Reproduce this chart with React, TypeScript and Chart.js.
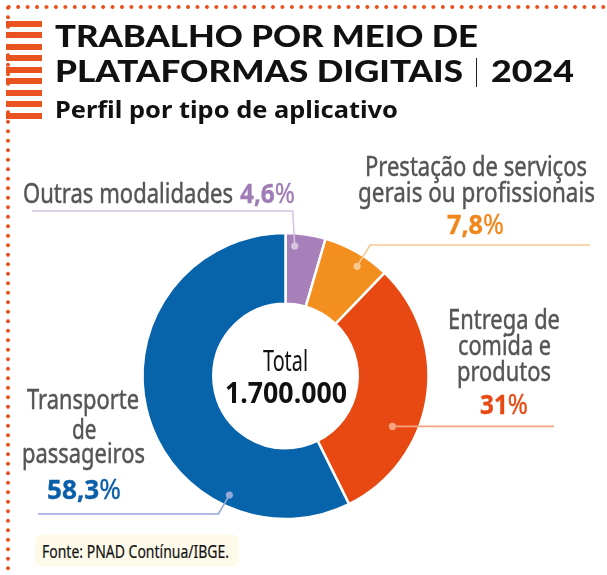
import React, { useEffect, useLayoutEffect, useRef } from "react";
import { Chart, registerables } from "chart.js";

Chart.register(...registerables);

// ---- data ----
const categories = [
  "Outras modalidades",
  "Prestação de serviços gerais ou profissionais",
  "Entrega de comida e produtos",
  "Transporte de passageiros",
];
const shares = [4.6, 7.8, 31, 58.3];
const shareLabels = ["4,6", "7,8", "31", "58,3"];
const totalLabel = "1.700.000";

// ---- styling ----
const sliceColors = ["#a77fb9", "#f28f1f", "#e84913", "#0763aa"];
const leaderColors = ["#d5c4e0", "#f9c891", "#f6a27f", "#93a7d9"];
const textColors = ["#a07cb6", "#f0871c", "#e84913", "#0a5fa8"];
const ORANGE = "#e8531f";
const GRAY = "#555557";
const LABEL_FONT = "'Noto Sans', 'Open Sans', sans-serif";
const TITLE_FONT = "Lato, 'Noto Sans', sans-serif";

// Leader line geometry per slice: where the dot sits inside the ring
// (fraction along the arc, fraction across the ring), the level of the
// horizontal run, the horizontal offset of the elbow, and where the run ends.
type Leader = { t: number; rf: number; lineY: number | null; elbowDx: number; endX: number };
const leaders: Leader[] = [
  { t: 0.25, rf: 0.82, lineY: 211, elbowDx: -2, endX: 32 },
  { t: 0.61, rf: 0.83, lineY: 245, elbowDx: 13, endX: 590 },
  { t: 0.65, rf: 0.65, lineY: null, elbowDx: 0, endX: 554 },
  { t: 0.25, rf: 0.84, lineY: 514, elbowDx: -11, endX: 38 },
];

const leaderPlugin = {
  id: "leaders",
  afterDatasetsDraw(chart: any) {
    const ctx = chart.ctx as CanvasRenderingContext2D;
    const arcs = chart.getDatasetMeta(0).data;
    arcs.forEach((arc: any, i: number) => {
      const L = leaders[i];
      if (!L) return;
      const p = arc.getProps(["x", "y", "startAngle", "endAngle", "innerRadius", "outerRadius"], true);
      const a = p.startAngle + L.t * (p.endAngle - p.startAngle);
      const r = p.innerRadius + L.rf * (p.outerRadius - p.innerRadius);
      const dx = p.x + Math.cos(a) * r;
      const dy = p.y + Math.sin(a) * r;
      const ly = L.lineY === null ? dy : L.lineY;
      ctx.save();
      ctx.strokeStyle = leaderColors[i];
      ctx.lineWidth = 1.6;
      ctx.beginPath();
      ctx.moveTo(dx, dy);
      ctx.lineTo(dx + L.elbowDx, ly);
      ctx.lineTo(L.endX, ly);
      ctx.stroke();
      ctx.fillStyle = leaderColors[i];
      ctx.beginPath();
      ctx.arc(dx, dy, 3.6, 0, Math.PI * 2);
      ctx.fill();
      ctx.restore();
    });
  },
};

type TxtProps = {
  x: number;
  y: number; // baseline
  w?: number; // width to fit
  size: number;
  weight?: number;
  color?: string;
  family?: string;
  align?: "left" | "center" | "right";
  stroke?: number;
  children: React.ReactNode;
};

function Txt({
  x,
  y,
  w,
  size,
  weight = 400,
  color = GRAY,
  family = LABEL_FONT,
  align = "left",
  stroke = 0.45,
  children,
}: TxtProps) {
  const ref = useRef<HTMLDivElement>(null);
  const probe = useRef<HTMLSpanElement>(null);
  useLayoutEffect(() => {
    const el = ref.current!;
    const pr = probe.current!;
    el.style.transform = "none";
    const natural = el.getBoundingClientRect().width;
    const base = pr.offsetTop;
    const sx = w ? w / natural : 1;
    const width = natural * sx;
    const left = align === "center" ? x - width / 2 : align === "right" ? x - width : x;
    el.style.left = left + "px";
    el.style.top = y - base + "px";
    el.style.transformOrigin = "0 0";
    el.style.transform = `scaleX(${sx})`;
  });
  return (
    <div
      ref={ref}
      style={{
        position: "absolute",
        left: 0,
        top: 0,
        display: "inline-block",
        whiteSpace: "nowrap",
        fontFamily: family,
        fontSize: size,
        fontWeight: weight,
        color,
        lineHeight: 1.2,
        WebkitTextStroke: stroke ? `${stroke}px currentColor` : undefined,
      }}
    >
      {children}
      <span ref={probe} style={{ display: "inline-block", width: 0, height: 0 }} />
    </div>
  );
}

function Pct({ value, color }: { value: string; color: string }) {
  return (
    <span style={{ color, WebkitTextStroke: `0.3px ${color}` }}>
      <span style={{ fontWeight: 700 }}>{value}</span>
      <span style={{ fontWeight: 400 }}>%</span>
    </span>
  );
}

export default function App() {
  const canvasRef = useRef<HTMLCanvasElement>(null);

  useEffect(() => {
    const chart = new Chart(canvasRef.current!, {
      type: "doughnut",
      data: {
        labels: categories,
        datasets: [
          {
            data: shares,
            backgroundColor: sliceColors,
            borderColor: "#ffffff",
            borderWidth: 2.5,
            hoverOffset: 0,
          },
        ],
      },
      options: {
        responsive: false,
        animation: false,
        radius: 143,
        cutout: "50.5%",
        rotation: 0,
        layout: { padding: { left: 0, right: 36, top: 177, bottom: 0 } },
        plugins: {
          legend: { display: false },
          tooltip: { enabled: false },
          title: { display: false },
        },
        events: [],
      },
      plugins: [leaderPlugin],
    });
    return () => chart.destroy();
  }, []);

  return (
    <div
      style={{
        position: "absolute",
        left: 0,
        top: 0,
        width: 607,
        height: 575,
        background: "#ffffff",
        overflow: "hidden",
      }}
    >
      {/* dotted frame */}
      <div
        style={{
          position: "absolute",
          left: 3.5,
          top: 2.5,
          width: 603,
          height: 8,
          backgroundImage: `radial-gradient(circle, ${ORANGE} 1.6px, transparent 2.2px)`,
          backgroundSize: "9.45px 8px",
        }}
      />
      <div
        style={{
          position: "absolute",
          left: 4,
          top: 2.5,
          width: 8,
          height: 575,
          backgroundImage: `radial-gradient(circle, ${ORANGE} 1.6px, transparent 2.2px)`,
          backgroundSize: "8px 9.5px",
        }}
      />
      {/* striped block */}
      <div
        style={{
          position: "absolute",
          left: 6,
          top: 21,
          width: 36,
          height: 98,
          backgroundImage: `repeating-linear-gradient(to bottom, ${ORANGE} 0px, ${ORANGE} 5.6px, transparent 5.6px, transparent 11.5px)`,
        }}
      />

      <canvas ref={canvasRef} width={607} height={575} style={{ position: "absolute", left: 0, top: 0 }} />

      {/* heading */}
      <Txt x={55} y={47} w={423} size={31} weight={900} color="#111" family={TITLE_FONT} stroke={0}>
        TRABALHO POR MEIO DE
      </Txt>
      <Txt x={55} y={82} w={408} size={31} weight={900} color="#111" family={TITLE_FONT} stroke={0}>
        PLATAFORMAS DIGITAIS
      </Txt>
      <div style={{ position: "absolute", left: 475.5, top: 58, width: 1.5, height: 29, background: "#222" }} />
      <Txt x={491} y={82} w={83} size={31} weight={900} color="#111" family={TITLE_FONT} stroke={0}>
        2024
      </Txt>
      <Txt x={55} y={118} w={343} size={23} weight={700} color="#111" stroke={0}>
        Perfil por tipo de aplicativo
      </Txt>

      {/* slice labels */}
      <Txt x={23} y={203} w={210} size={26.5}>
        Outras modalidades
      </Txt>
      <Txt x={240} y={203} w={55} size={26.5} stroke={0}>
        <Pct value={shareLabels[0]} color={textColors[0]} />
      </Txt>

      <Txt x={476} y={176} w={222} size={26.5} align="center">
        Prestação de serviços
      </Txt>
      <Txt x={476.5} y={201.5} w={237} size={26.5} align="center">
        gerais ou profissionais
      </Txt>
      <Txt x={475} y={234} w={57} size={26.5} align="center" stroke={0}>
        <Pct value={shareLabels[1]} color={textColors[1]} />
      </Txt>

      <Txt x={504} y={329.3} w={112} size={26.5} align="center">
        Entrega de
      </Txt>
      <Txt x={504} y={355} w={93} size={26.5} align="center">
        comida e
      </Txt>
      <Txt x={504} y={381} w={94} size={26.5} align="center">
        produtos
      </Txt>
      <Txt x={504} y={413.5} w={48} size={26.5} align="center" stroke={0}>
        <Pct value={shareLabels[2]} color={textColors[2]} />
      </Txt>

      <Txt x={83.3} y={409} w={112} size={26.5} align="center">
        Transporte
      </Txt>
      <Txt x={83.8} y={439} w={24.5} size={26.5} align="center">
        de
      </Txt>
      <Txt x={83.3} y={462.5} w={123} size={26.5} align="center">
        passageiros
      </Txt>
      <Txt x={83.7} y={498.5} w={74} size={26.5} align="center" stroke={0}>
        <Pct value={shareLabels[3]} color={textColors[3]} />
      </Txt>

      {/* centre */}
      <Txt x={285.5} y={371} w={45} size={29} weight={400} color="#111" align="center" stroke={0}>
        Total
      </Txt>
      <Txt x={286} y={402.5} w={122} size={28} weight={700} color="#111" align="center" stroke={0}>
        {totalLabel}
      </Txt>

      {/* source note */}
      <div
        style={{
          position: "absolute",
          left: 35,
          top: 534,
          width: 204,
          height: 33,
          borderRadius: 8,
          background: "#fdfaea",
        }}
      />
      <Txt x={42} y={558} w={187} size={18} weight={400} color="#111" stroke={0.2}>
        Fonte: PNAD Contínua/IBGE.
      </Txt>
    </div>
  );
}
